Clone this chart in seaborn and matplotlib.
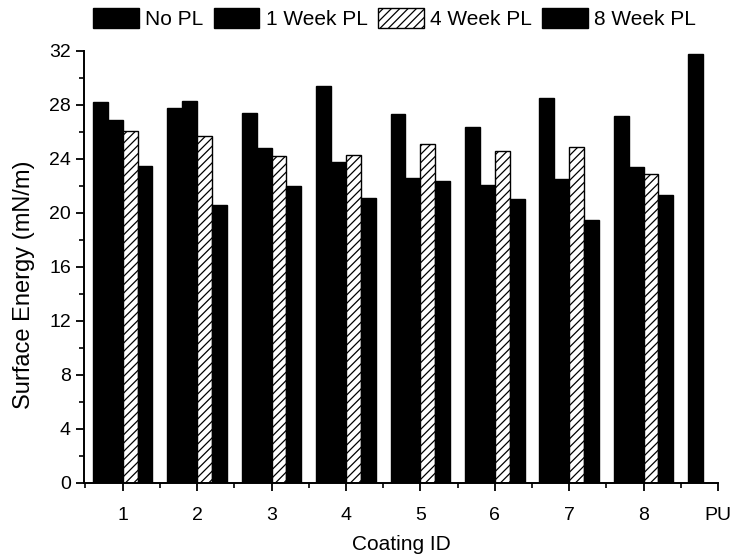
import numpy as np
import pandas as pd
import matplotlib
matplotlib.use("Agg")
import matplotlib.pyplot as plt
from matplotlib.ticker import MultipleLocator, FixedLocator
import seaborn as sns

coatings = ['1', '2', '3', '4', '5', '6', '7', '8', 'PU']
series = ['No PL', '1 Week PL', '4 Week PL', '8 Week PL']
no_pl = [28.2, 27.8, 27.4, 29.4, 27.3, 26.4, 28.5, 27.2, 31.8]
week1 = [26.9, 28.3, 24.8, 23.8, 22.6, 22.1, 22.5, 23.4, np.nan]
week4 = [26.1, 25.7, 24.2, 24.3, 25.1, 24.6, 24.9, 22.9, np.nan]
week8 = [23.5, 20.6, 22.0, 21.1, 22.4, 21.0, 19.5, 21.3, np.nan]

rows = []
for name, vals in zip(series, [no_pl, week1, week4, week8]):
    for c, v in zip(coatings, vals):
        rows.append({'Coating': c, 'Series': name, 'Energy': v})
df = pd.DataFrame(rows)

sns.set_style('ticks')
plt.rcParams['font.family'] = ['Liberation Sans', 'DejaVu Sans']
plt.rcParams['text.color'] = 'black'
plt.rcParams['axes.labelcolor'] = 'black'
plt.rcParams['hatch.linewidth'] = 0.9
plt.rcParams['hatch.color'] = 'black'

fig = plt.figure(figsize=(7.33, 5.56), dpi=100)
ax = fig.add_axes([0.1146, 0.1313, 0.8649, 0.777])

palette = {'No PL': 'black', '1 Week PL': 'black', '4 Week PL': 'white', '8 Week PL': 'black'}
sns.barplot(data=df, x='Coating', y='Energy', hue='Series', order=coatings,
            hue_order=series, palette=palette, edgecolor='black', linewidth=1,
            width=0.8, legend=False, ax=ax)

for p in ax.containers[2]:
    p.set_hatch('////')
    p.set_facecolor('white')
    p.set_edgecolor('black')

ax.set_xlim(-0.52, 8.0)
ax.set_ylim(0, 32)
ax.yaxis.set_major_locator(MultipleLocator(4))
ax.yaxis.set_minor_locator(MultipleLocator(2))
ax.xaxis.set_minor_locator(FixedLocator(np.arange(-0.5, 8.0, 1.0)))

for s in ['top', 'right']:
    ax.spines[s].set_visible(False)
for s in ['left', 'bottom']:
    ax.spines[s].set_linewidth(1.4)
    ax.spines[s].set_color('black')

ax.tick_params(axis='both', which='major', direction='out', length=6, width=1.3,
               labelsize=14, colors='black')
ax.tick_params(axis='both', which='minor', direction='out', length=3.5, width=1.2,
               colors='black')
ax.tick_params(axis='x', which='major', pad=11)

ax.set_xlabel('Coating ID', fontsize=15, labelpad=8, color='black')
ax.set_ylabel('Surface Energy (mN/m)', fontsize=17, color='black')
ax.yaxis.set_label_coords(-0.077, 0.46)

ax.legend(handles=list(ax.containers), labels=series, loc='lower left',
          bbox_to_anchor=(0.014, 1.05), ncol=4, frameon=False, fontsize=15,
          handlelength=2.2, handleheight=1.1, handletextpad=0.3,
          columnspacing=0.5, borderpad=0, borderaxespad=0)

fig.savefig('out.png', dpi=100)
